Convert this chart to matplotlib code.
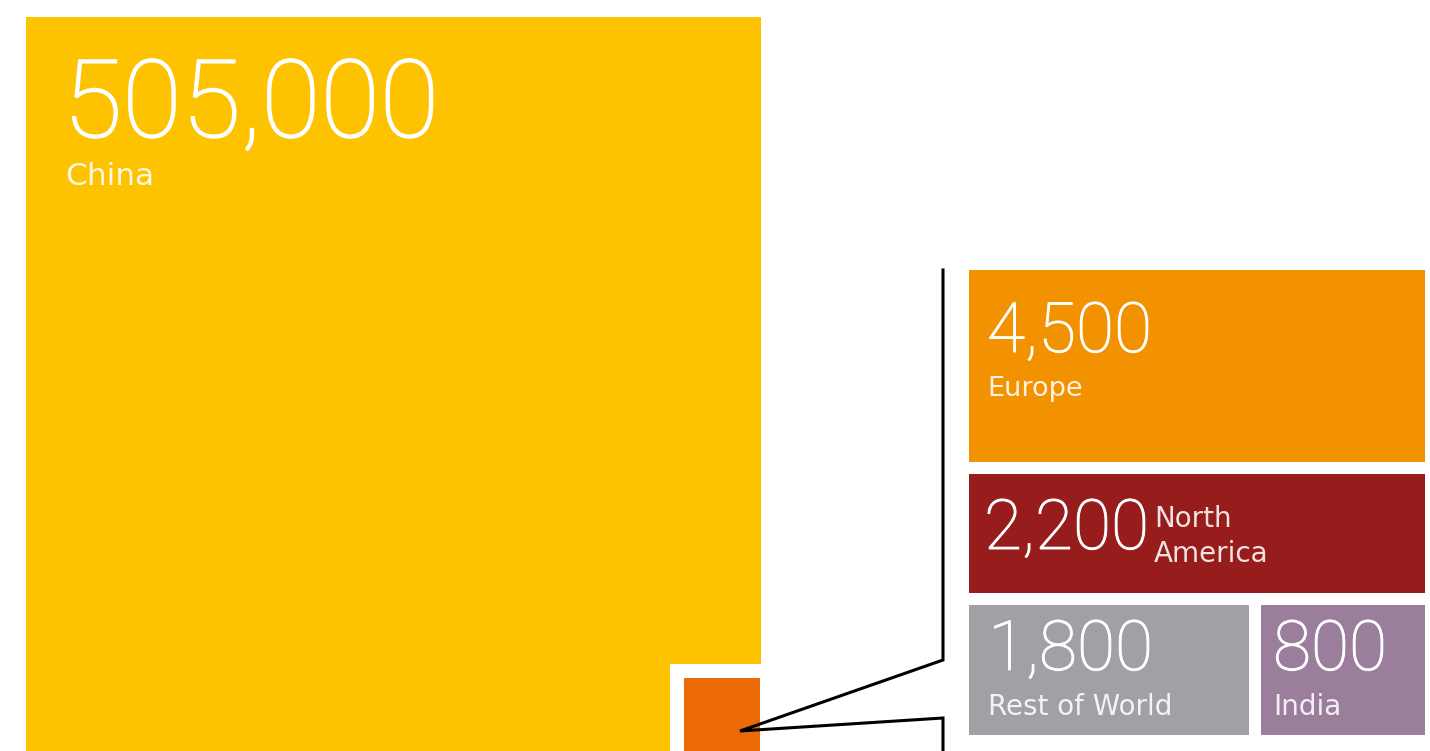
import matplotlib.pyplot as plt
import matplotlib.patheffects as pe
from matplotlib.patches import Rectangle

# values and labels
regions = ["China", "Europe", "North\nAmerica", "Rest of World", "India"]
values = [505000, 4500, 2200, 1800, 800]
colors = ["#FDC300", "#F29200", "#971C1C", "#A0A0A5", "#9B7D9C"]
inset_color = "#EC6A07"

# hand layout in pixel coords (x0, y0, x1, y1)
boxes = [
    (26, 17, 761, 760),
    (969, 270, 1425, 462),
    (969, 474, 1425, 593),
    (969, 605, 1249, 735),
    (1261, 605, 1425, 735),
]

W, H = 1430, 751
fig = plt.figure(figsize=(W / 100, H / 100), dpi=100)
ax = fig.add_axes([0, 0, 1, 1])
ax.set_xlim(0, W)
ax.set_ylim(H, 0)
ax.axis("off")

numfont = dict(family=["Roboto", "DejaVu Sans"], color="white", fontweight="light")
labfont = dict(family=["DejaVu Sans"], color="white", alpha=0.88)

for (x0, y0, x1, y1), c in zip(boxes, colors):
    ax.add_patch(Rectangle((x0, y0), x1 - x0, y1 - y0, color=c, lw=0))

# small square standing for the rest of the world, cut out of China
ax.add_patch(Rectangle((670, 664), 91, 100, color="white", lw=0))
ax.add_patch(Rectangle((684, 678), 76, 80, color=inset_color, lw=0))

# connector
ax.plot([943, 943, 740, 943, 943], [270, 660, 731, 718, 760],
        color="black", lw=2.2, solid_joinstyle="miter", clip_on=False)

def num(v):
    return f"{v:,}"

def big(x, y, s, size, stroke):
    t = ax.text(x, y, s, fontsize=size, va="baseline", **numfont)
    t.set_path_effects([pe.withStroke(linewidth=stroke, foreground="white")])

# China
big(63, 137, num(values[0]), 78, 1.1)
ax.text(65, 185, regions[0], fontsize=22.5, va="baseline", **labfont)

# Europe
big(987, 352, num(values[1]), 50, 0.7)
ax.text(987, 396, regions[1], fontsize=19.5, va="baseline", **labfont)

# North America
big(984, 549, num(values[2]), 50, 0.7)
ax.text(1154, 527, "North", fontsize=20, va="baseline", **labfont)
ax.text(1154, 562, "America", fontsize=20, va="baseline", **labfont)

# Rest of World
big(988, 670, num(values[3]), 50, 0.7)
ax.text(988, 715, regions[3], fontsize=20, va="baseline", **labfont)

# India
big(1273, 670, num(values[4]), 50, 0.7)
ax.text(1273, 715, regions[4], fontsize=20, va="baseline", **labfont)

fig.savefig("out.png", dpi=100)
